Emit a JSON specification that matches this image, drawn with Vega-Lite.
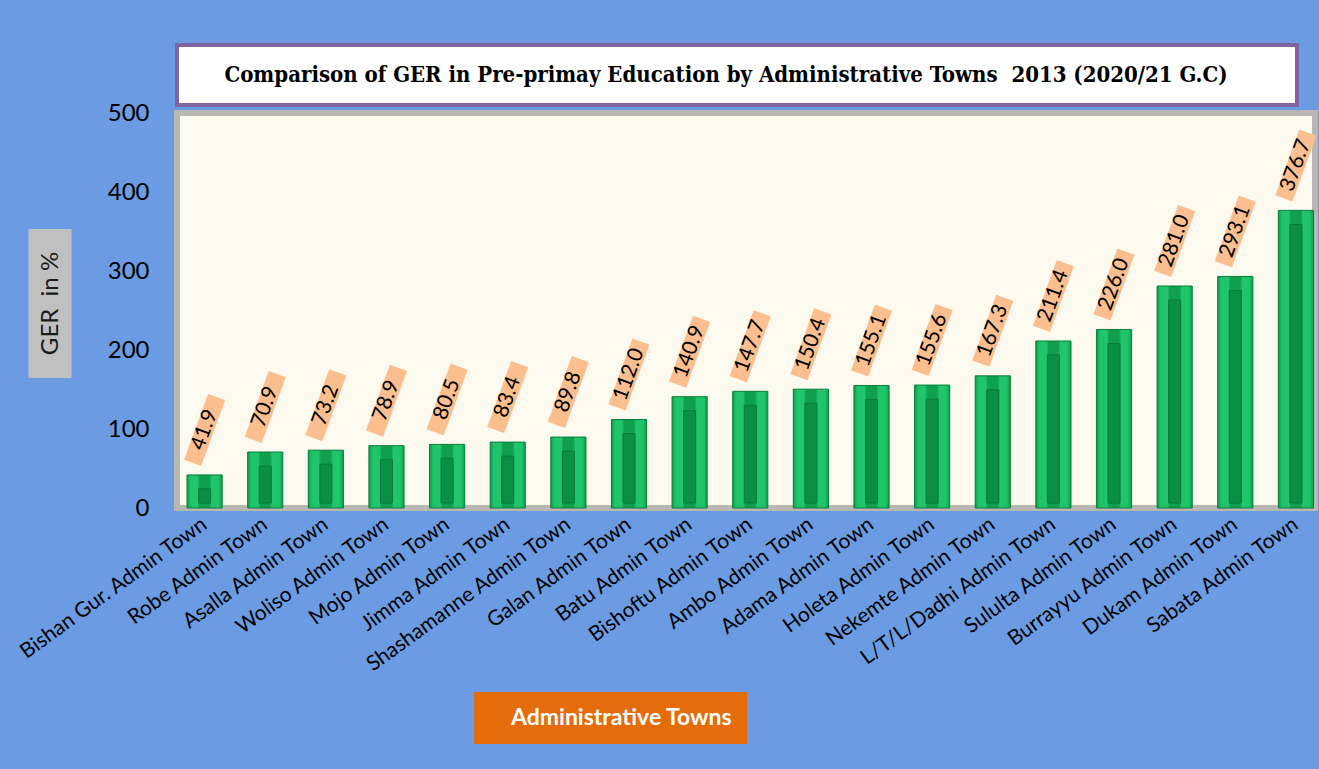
{
  "$schema": "https://vega.github.io/schema/vega-lite/v6.json",
  "background": "#6b9ce3",
  "padding": {"left": -50, "top": 43, "right": 1, "bottom": 26},
  "bounds": "flush",
  "spacing": 8,
  "config": {"font": "Lato"},
  "vconcat": [
    {
      "width": 1120,
      "height": 60,
      "view": {"fill": "white", "stroke": "#8064a2", "strokeWidth": 4},
      "data": {"values": [{"title": "Comparison of GER in Pre-primay Education by Administrative Towns \u00a02013 (2020/21 G.C)"}]},
      "mark": {"type": "text", "font": "DejaVu Serif Condensed", "fontWeight": "bold", "fontSize": 22, "color": "black", "align": "center", "baseline": "middle", "dx": -11},
      "encoding": {"text": {"field": "title"}}
    },
    {
      "width": 1138,
      "height": 395,
      "view": {"fill": "#fcf9ee", "stroke": "#b9b8b0", "strokeWidth": 6},
      "data": {"values": [
        {"town": "Bishan Gur. Admin Town", "ger": 41.9},
        {"town": "Robe Admin Town", "ger": 70.9},
        {"town": "Asalla Admin Town", "ger": 73.2},
        {"town": "Woliso Admin Town", "ger": 78.9},
        {"town": "Mojo Admin Town", "ger": 80.5},
        {"town": "Jimma Admin Town", "ger": 83.4},
        {"town": "Shashamanne Admin Town", "ger": 89.8},
        {"town": "Galan Admin Town", "ger": 112.0},
        {"town": "Batu Admin Town", "ger": 140.9},
        {"town": "Bishoftu Admin Town", "ger": 147.7},
        {"town": "Ambo Admin Town", "ger": 150.4},
        {"town": "Adama Admin Town", "ger": 155.1},
        {"town": "Holeta Admin Town", "ger": 155.6},
        {"town": "Nekemte Admin Town", "ger": 167.3},
        {"town": "L/T/L/Dadhi Admin Town", "ger": 211.4},
        {"town": "Sululta Admin Town", "ger": 226.0},
        {"town": "Burrayyu Admin Town", "ger": 281.0},
        {"town": "Dukam Admin Town", "ger": 293.1},
        {"town": "Sabata Admin Town", "ger": 376.7}
      ]},
      "resolve": {"axis": {"y": "independent"}},
      "encoding": {
        "x": {"field": "town", "type": "nominal", "sort": null,
          "scale": {"paddingInner": 0.42, "paddingOuter": 0.095, "align": 0.87},
          "axis": {"title": null, "labelAngle": -36, "labelAlign": "right", "labelBaseline": "middle", "labelFontSize": 21, "labelFont": "Lato", "labelColor": "black", "ticks": false, "domain": false, "labelPadding": 14, "labelLimit": 300}}
      },
      "layer": [
        {
          "mark": {"type": "bar", "stroke": "#0a7d3b", "strokeWidth": 1,
            "fill": {"gradient": "linear", "x1": 0, "y1": 0, "x2": 1, "y2": 0,
              "stops": [
                {"offset": 0, "color": "#0c9a4b"},
                {"offset": 0.1, "color": "#1fc36a"},
                {"offset": 0.3, "color": "#22c56c"},
                {"offset": 0.36, "color": "#0f9f4e"},
                {"offset": 0.64, "color": "#0f9f4e"},
                {"offset": 0.7, "color": "#22c56c"},
                {"offset": 0.9, "color": "#1fc36a"},
                {"offset": 1, "color": "#0c9a4b"}
              ]}},
          "encoding": {
            "y": {"field": "ger", "type": "quantitative",
              "scale": {"domain": [0, 500], "nice": false},
              "axis": {"orient": "left", "title": null, "values": [0, 100, 200, 300, 400, 500], "labelFontSize": 24, "labelFont": "Lato", "labelColor": "black", "domain": false, "ticks": false, "grid": false, "labelPadding": 28}}
          }
        },
        {
          "mark": {"type": "bar", "size": 12, "yOffset": 14, "y2Offset": -5, "fill": "#0b8f45", "stroke": "#087a3a", "strokeWidth": 1},
          "encoding": {
            "y": {"field": "ger", "type": "quantitative",
              "axis": {"orient": "left", "offset": 106, "values": [259], "labels": false, "domain": false, "grid": false,
                "ticks": true, "tickSize": 43, "tickWidth": 149, "tickColor": "#c0c0c0", "tickCap": "butt", "tickOpacity": 1,
                "title": "GER \u00a0in %", "titleAngle": -90, "titleFont": "Lato", "titleFontSize": 24, "titleFontWeight": "normal", "titleColor": "#1a1a1a",
                "titleAlign": "center", "titleBaseline": "middle", "titleX": -21, "titleY": 190}},
            "y2": {"datum": 0}
          }
        },
        {
          "mark": {"type": "point", "filled": true, "angle": -70, "size": 4900, "color": "#fbbf8f", "opacity": 1, "strokeWidth": 0, "yOffset": -45},
          "encoding": {
            "y": {"field": "ger", "type": "quantitative", "axis": null},
            "shape": {"datum": "Administrative Towns", "scale": {"range": ["M-1,-0.26L1,-0.26L1,0.26L-1,0.26Z"]},
              "legend": {"title": null, "orient": "none", "legendX": 297, "legendY": 647, "fillColor": "#e46c0a", "padding": 14,
                "labelFont": "Lato", "labelFontSize": 23, "labelFontWeight": "bold", "labelColor": "white", "labelLimit": 500, "labelOffset": 0,
                "symbolSize": 0, "symbolOpacity": 0, "symbolStrokeWidth": 0}}
          }
        },
        {
          "mark": {"type": "text", "angle": -70, "fontSize": 21, "font": "Lato", "color": "black", "align": "center", "baseline": "middle", "yOffset": -45},
          "encoding": {
            "y": {"field": "ger", "type": "quantitative", "axis": null},
            "text": {"field": "ger", "type": "quantitative", "format": ".1f"}
          }
        }
      ]
    }
  ]
}
